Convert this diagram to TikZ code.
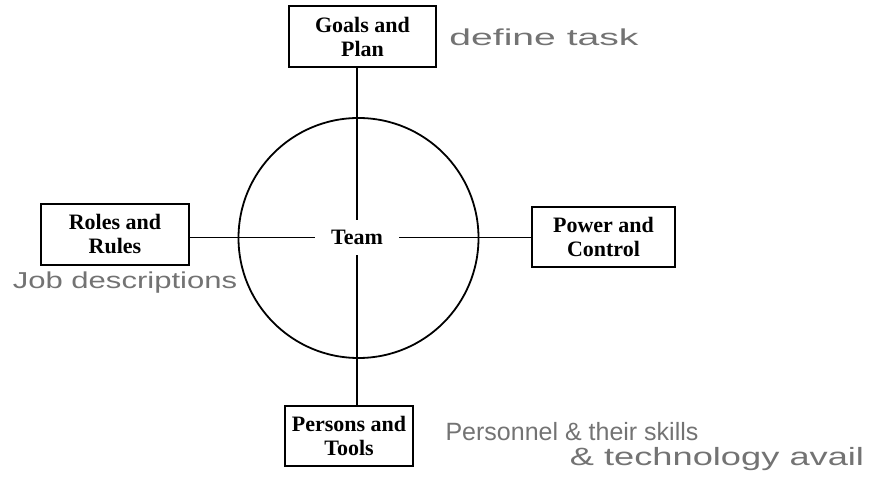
\documentclass[tikz,border=0pt]{standalone}
\usepackage{fontspec}
\setmainfont{Liberation Serif}
\newfontfamily\handfont{Liberation Sans}
\begin{document}
\begin{tikzpicture}[x=1pt,y=1pt,
  box/.style={draw=black, line width=1.8pt, inner sep=0pt, align=center,
    font=\fontsize{22}{24}\selectfont\bfseries},
  link/.style={line width=1.6pt},
  hand/.style={text=black!55, inner sep=0pt, font=\handfont\fontsize{23}{26}\selectfont}]
\useasboundingbox (0,0) rectangle (885,495);
\node[draw=black, line width=1.8pt, circle, minimum size=240pt, inner sep=0pt] (circ) at (358.5,257) {};
\node[inner sep=0pt, minimum width=84pt, minimum height=35pt, font=\fontsize{22}{24}\selectfont\bfseries] (team) at (357,257.5) {Team};
\node[box, minimum width=147pt, minimum height=61pt] (goals) at (362.5,458.5) {Goals and\\Plan};
\node[box, minimum width=148pt, minimum height=61pt] (roles) at (115,260.5) {Roles and\\Rules};
\node[box, minimum width=143pt, minimum height=60pt] (power) at (603.5,258) {Power and\\Control};
\node[box, minimum width=128pt, minimum height=60pt] (persons) at (349,59) {Persons and\\Tools};
\draw[link] (team.north) -- (team.north |- goals.south);
\draw[link] (team.south) -- (team.south |- persons.north);
\draw[link] (team.west) -- (team.west -| roles.east);
\draw[link] (team.east) -- (team.east -| power.west);
\node[hand] (h1) at (544,458) {\scalebox{1.7}[1]{define task}};
\node[hand] (h2) at (125,212) {\scalebox{1.35}[1]{Job descriptions}};
\node[hand, font=\handfont\fontsize{25}{28}\selectfont] (h3) at (572,63) {\scalebox{1.0}[1]{Personnel \& their skills}};
\node[hand, font=\handfont\fontsize{25}{28}\selectfont] (h4) at (717,36) {\scalebox{1.45}[1]{\& technology avail}};
\end{tikzpicture}
\end{document}
